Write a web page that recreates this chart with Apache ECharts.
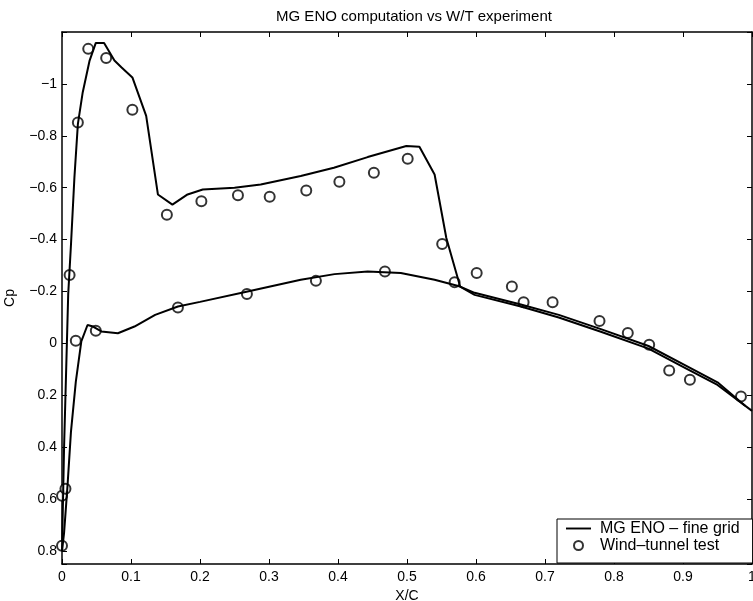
<!DOCTYPE html>
<html>
<head>
<meta charset="utf-8">
<title>MG ENO computation vs W/T experiment</title>
<script src="https://cdn.jsdelivr.net/npm/echarts@6/dist/echarts.min.js"></script>
<style>
  html, body { margin: 0; padding: 0; background: #fff; }
  #chart { width: 753px; height: 601px; }
</style>
</head>
<body>
<div id="chart"></div>
<script>
// upper surface, computed (MG ENO fine grid)
const upperX = [0.000, 0.003, 0.009, 0.013, 0.018, 0.023, 0.030, 0.040, 0.049, 0.061, 0.076, 0.086, 0.102, 0.122, 0.139, 0.160, 0.182, 0.204, 0.250, 0.288, 0.346, 0.394, 0.443, 0.499, 0.518, 0.540, 0.557, 0.577, 0.598, 0.665, 0.720, 0.781, 0.850, 0.900, 0.950, 1.000];
const upperCp = [0.80, 0.40, -0.19, -0.38, -0.64, -0.845, -0.967, -1.09, -1.158, -1.158, -1.09, -1.064, -1.025, -0.877, -0.574, -0.535, -0.574, -0.593, -0.600, -0.612, -0.645, -0.677, -0.718, -0.761, -0.758, -0.651, -0.406, -0.219, -0.187, -0.142, -0.100, -0.045, 0.020, 0.090, 0.160, 0.260];

// lower surface, computed
const lowerX = [0.000, 0.003, 0.008, 0.013, 0.020, 0.028, 0.037, 0.045, 0.057, 0.081, 0.105, 0.135, 0.168, 0.200, 0.269, 0.346, 0.395, 0.443, 0.491, 0.540, 0.577, 0.598, 0.665, 0.720, 0.781, 0.850, 0.900, 0.950, 0.990];
const lowerCp = [0.80, 0.73, 0.548, 0.34, 0.148, -0.008, -0.071, -0.065, -0.046, -0.039, -0.065, -0.110, -0.142, -0.160, -0.200, -0.245, -0.267, -0.277, -0.271, -0.245, -0.219, -0.195, -0.150, -0.110, -0.055, 0.010, 0.080, 0.150, 0.240];

// wind-tunnel test points
const testX = [0.000, 0.000, 0.005, 0.011, 0.023, 0.038, 0.064, 0.102, 0.152, 0.202, 0.255, 0.301, 0.354, 0.402, 0.452, 0.501, 0.551, 0.601, 0.652, 0.669, 0.711, 0.779, 0.820, 0.851, 0.880, 0.910, 0.984, 0.020, 0.049, 0.168, 0.268, 0.368, 0.468, 0.569];
const testCp = [0.78, 0.587, 0.56, -0.264, -0.851, -1.135, -1.10, -0.90, -0.496, -0.548, -0.571, -0.565, -0.589, -0.623, -0.658, -0.712, -0.383, -0.271, -0.219, -0.159, -0.159, -0.086, -0.040, 0.005, 0.104, 0.140, 0.205, -0.010, -0.049, -0.138, -0.190, -0.241, -0.277, -0.236];

const xTicks = { min: 0, max: 1, step: 0.1 };
const yTicks = { min: -1.2, max: 0.85, step: 0.2 };

const zip = (xs, ys) => xs.map((x, i) => [x, ys[i]]);
const fmt = v => String(+v.toFixed(1)).replace('-', '\u2212');

const font = 'Liberation Sans, Arial, Helvetica, sans-serif';
const tick = { show: true, inside: true, length: 5, lineStyle: { color: '#000', width: 1 } };
const line = { show: true, onZero: false, lineStyle: { color: '#000', width: 1.5 } };

const chart = echarts.init(document.getElementById('chart'));
chart.setOption({
  animation: false,
  backgroundColor: '#fff',
  title: {
    text: 'MG ENO computation vs W/T experiment',
    left: 409, top: 4, textAlign: 'center',
    textStyle: { fontFamily: font, fontSize: 15, fontWeight: 'normal', color: '#000' }
  },
  grid: { left: 62, right: 1, top: 32, bottom: 37, outerBoundsMode: 'none' },
  legend: {
    orient: 'vertical',
    left: 557, bottom: 38,
    padding: [1, 13, 9, 9],
    itemGap: 0,
    itemWidth: 25, itemHeight: 9,
    backgroundColor: '#fff',
    borderColor: '#000', borderWidth: 1, borderRadius: 0,
    textStyle: { fontFamily: font, fontSize: 16, color: '#000', lineHeight: 17, padding: [0, 0, 0, 4] },
    data: [
      { name: 'MG ENO – fine grid', icon: 'path://M0,0H26V2H0Z' },
      { name: 'Wind–tunnel test', icon: 'emptyCircle' }
    ]
  },
  xAxis: [{
    type: 'value', position: 'bottom',
    min: xTicks.min, max: xTicks.max, interval: xTicks.step,
    name: 'X/C', nameLocation: 'middle', nameGap: 22,
    nameTextStyle: { fontFamily: font, fontSize: 14, color: '#000' },
    axisLine: line, axisTick: tick, splitLine: { show: false },
    axisLabel: { fontFamily: font, fontSize: 14, color: '#000', margin: 6, formatter: fmt }
  }, {
    type: 'value', position: 'top',
    min: xTicks.min, max: xTicks.max, interval: xTicks.step,
    axisLine: line, axisTick: tick, splitLine: { show: false },
    axisLabel: { show: false }
  }],
  yAxis: [{
    type: 'value', position: 'left', inverse: true,
    min: yTicks.min, max: yTicks.max, interval: yTicks.step,
    name: 'Cp', nameLocation: 'middle', nameGap: 45, nameRotate: 90,
    nameTextStyle: { fontFamily: font, fontSize: 14, color: '#000' },
    axisLine: line, axisTick: tick, splitLine: { show: false },
    axisLabel: {
      fontFamily: font, fontSize: 14, color: '#000', margin: 5,
      formatter: v => (v < -1.1 || v > 0.81 ? '' : fmt(v))
    }
  }, {
    type: 'value', position: 'right', inverse: true,
    min: yTicks.min, max: yTicks.max, interval: yTicks.step,
    axisLine: line, axisTick: tick, splitLine: { show: false },
    axisLabel: { show: false }
  }],
  series: [{
    name: 'MG ENO – fine grid',
    type: 'line',
    data: zip(upperX, upperCp),
    symbol: 'none',
    lineStyle: { color: '#000', width: 2 },
    itemStyle: { color: '#000' }
  }, {
    name: 'MG ENO – fine grid',
    type: 'line',
    data: zip(lowerX, lowerCp),
    symbol: 'none',
    lineStyle: { color: '#000', width: 2 },
    itemStyle: { color: '#000' }
  }, {
    name: 'Wind–tunnel test',
    type: 'scatter',
    data: zip(testX, testCp),
    symbol: 'emptyCircle',
    symbolSize: 10,
    itemStyle: { color: '#000', borderColor: '#000', borderWidth: 1.5 }
  }]
});
</script>
</body>
</html>
